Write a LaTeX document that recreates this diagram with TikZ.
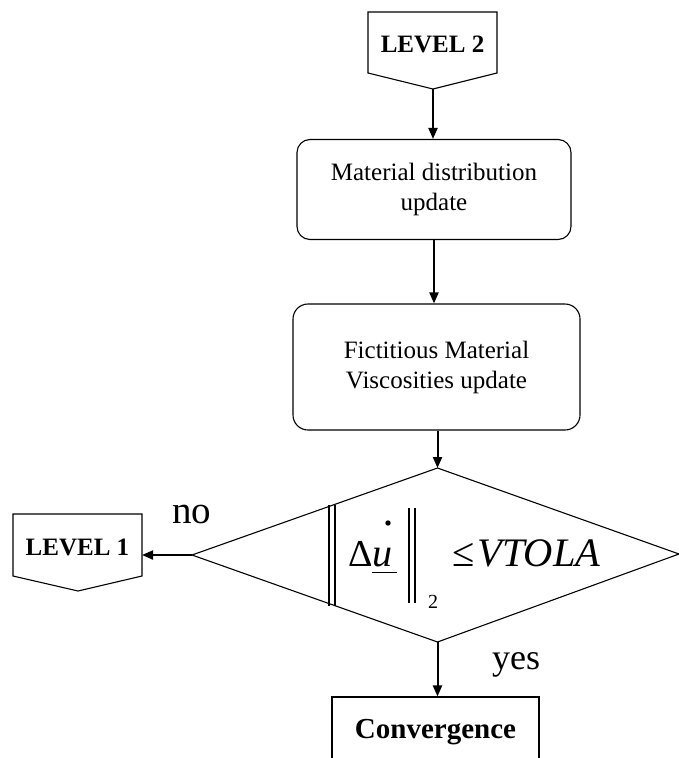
\documentclass[tikz,border=0pt]{standalone}
\usepackage{fontspec}
\setmainfont{Liberation Serif}
\usetikzlibrary{arrows.meta}
\newcommand{\fsz}[1]{\fontsize{#1}{1.2\dimexpr#1pt\relax}\selectfont}
\tikzset{
  conn/.style={line width=2pt,-{Triangle[length=11pt,width=9pt]}},
  outline/.style={draw,line width=1.1pt},
  procbox/.style={outline,rounded corners=13pt,align=center,inner sep=0pt,font=\fsz{25}},
  lbl/.style={inner sep=0pt,anchor=base west},
  levtext/.style={inner sep=0pt,font=\fsz{25}\bfseries},
}
\begin{document}
\begin{tikzpicture}[x=1pt,y=-1pt]
\useasboundingbox (0,0) rectangle (679,758);
\clip (-1,-1) rectangle (680,759);
% LEVEL 2 off-page connector
\coordinate (l2tl) at (368,12);
\coordinate (l2tr) at (497,12);
\coordinate (l2br) at (497,73);
\coordinate (l2tip) at (433,89);
\coordinate (l2bl) at (368,73);
\draw[outline] (l2tl) -- (l2tr) -- (l2br) -- (l2tip) -- (l2bl) -- cycle;
\node[levtext] (lev2) at (432.5,44) {LEVEL 2};
% Material distribution update
\node[procbox,minimum width=274pt,minimum height=100pt] (mat) at (434,189.5)
  {Material distribution\\update};
% Fictitious Material Viscosities update
\node[procbox,rounded corners=15pt,minimum width=287pt,minimum height=126pt] (vis) at (436.5,367)
  {Fictitious Material\\Viscosities update};
% decision diamond
\coordinate (dtop) at (437.5,468);
\coordinate (dright) at (679,554);
\coordinate (dbot) at (437.5,642);
\coordinate (dleft) at (192,555);
\draw[outline] (dtop) -- (dright) -- (dbot) -- (dleft) -- cycle;
% formula
\node[lbl,font=\fsz{38}] (delta) at (348,566) {Δ};
\node[lbl,font=\fsz{40}\itshape] (uvar) at (372,566) {u};
\draw[line width=1.3pt] (372,572.5) -- (397,572.5);
\fill (388,523) circle (2.7);
\draw[line width=1.2pt] (329,505) -- (329,606) (335,505) -- (335,606);
\draw[line width=1.2pt] (409,508) -- (409,603) (415,508) -- (415,603);
\node[lbl,font=\fsz{20}] (sub2) at (428,608) {2};
\node[lbl,font=\fsz{40.5}] (tol) at (452,566) {≤\kern3pt\itshape VTOLA};
% LEVEL 1 off-page connector
\coordinate (l1tl) at (13,514);
\coordinate (l1tr) at (142,514);
\coordinate (l1br) at (142,576);
\coordinate (l1tip) at (78,591);
\coordinate (l1bl) at (13,576);
\coordinate (l1in) at (142,555);
\draw[outline] (l1tl) -- (l1tr) -- (l1br) -- (l1tip) -- (l1bl) -- cycle;
\node[levtext] (lev1) at (77.5,547.5) {LEVEL 1};
% Convergence
\node[outline,inner sep=0pt,minimum width=207pt,minimum height=70pt,font=\fsz{29}\bfseries] (conv) at (435.5,732) {Convergence};
% labels
\node[lbl,font=\fsz{39}] (no) at (172,523) {no};
\node[lbl,font=\fsz{36}] (yes) at (492,669) {yes};
% connectors
\draw[conn] (l2tip) -- (l2tip |- mat.north);
\draw[conn] (mat.south) -- (mat.south |- vis.north);
\draw[conn] (vis.south -| dtop) -- (dtop);
\draw[conn] (dleft) -- (l1in);
\draw[conn] (dbot) -- (dbot |- conv.north);
\end{tikzpicture}
\end{document}
